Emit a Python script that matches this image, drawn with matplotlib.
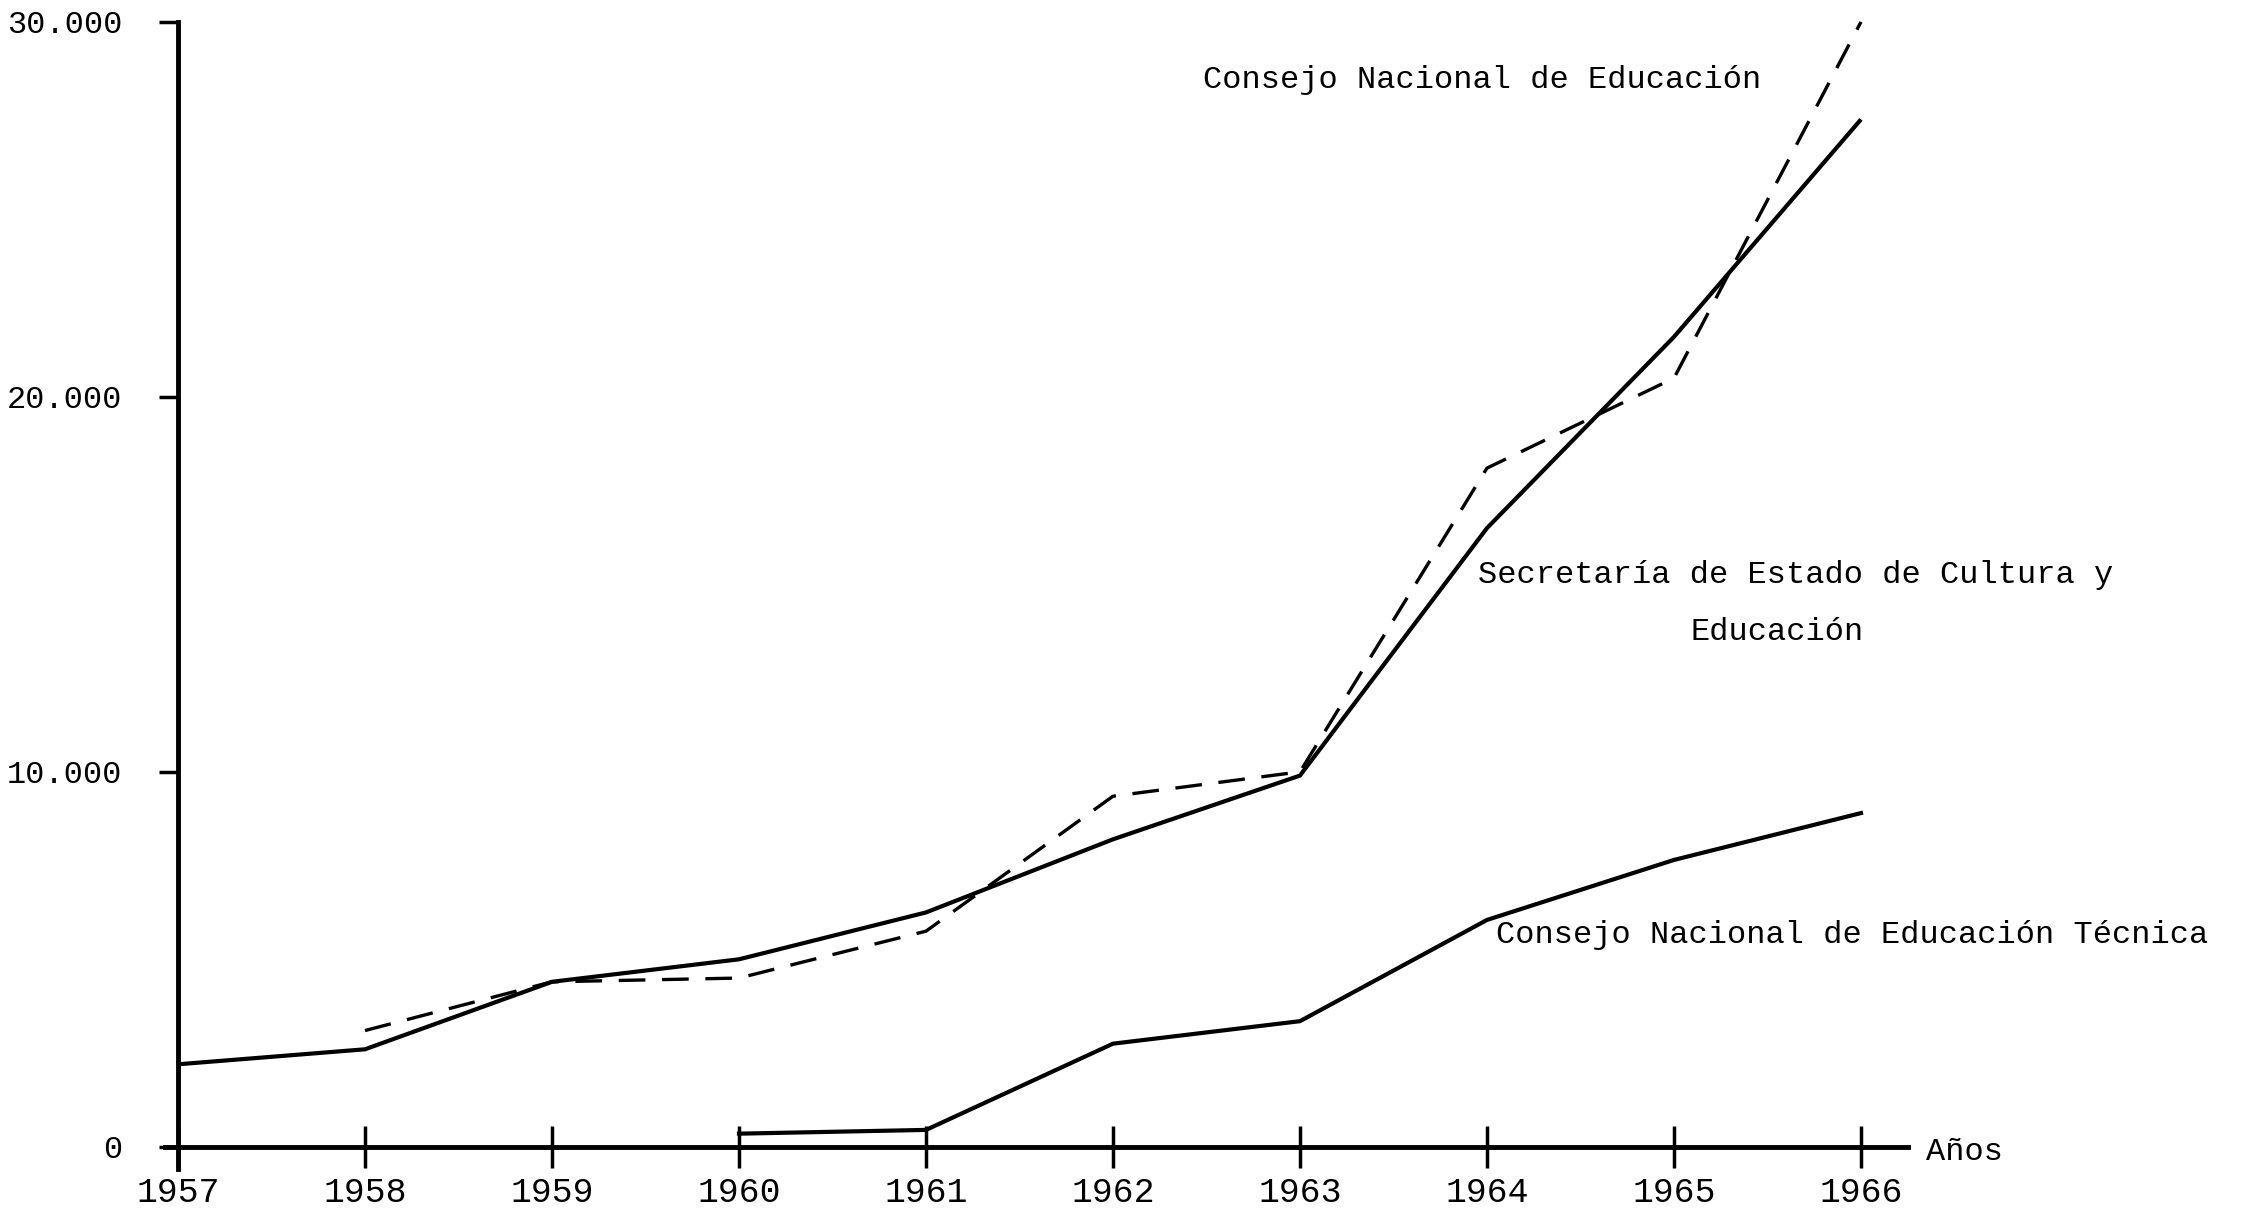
import numpy as np
import matplotlib.pyplot as plt

# years on the x axis
years = [1957, 1958, 1959, 1960, 1961, 1962, 1963, 1964, 1965, 1966]

# solid upper line (from 1957)
secretaria = [2200, 2600, 4400, 5000, 6250, 8200, 9900, 16500, 21600, 27400]
# dashed line (from 1958)
cne_years = [1958, 1959, 1960, 1961, 1962, 1963, 1964, 1965, 1966]
cne = [3100, 4400, 4500, 5750, 9350, 10000, 18100, 20500, 30000]
# lower solid line (from 1960)
conet_years = [1960, 1961, 1962, 1963, 1964, 1965, 1966]
conet = [350, 450, 2750, 3350, 6050, 7650, 8900]

yticks = [0, 10000, 20000, 30000]
ytick_labels = ["0", "10.000", "20.000", "30.000"]

mono = "Liberation Mono"

fig = plt.figure(figsize=(22.53, 12.12), dpi=100)
ax = fig.add_axes([0.0375, 0.0074, 0.830, 0.990])

ax.plot(years, secretaria, color="black", lw=3.0, solid_capstyle="butt")
ax.plot(cne_years, cne, color="black", lw=2.4, dashes=(8, 5))
ax.plot(conet_years, conet, color="black", lw=3.0)

ax.set_xlim(1956.5, 1966.5)
ax.set_ylim(-1500, 30500)

for s in ["top", "right"]:
    ax.spines[s].set_visible(False)
ax.spines["left"].set_position(("data", 1957))
ax.spines["bottom"].set_position(("data", 0))
ax.spines["left"].set_bounds(-600, 30000)
ax.spines["bottom"].set_bounds(1956.93, 1966.25)
ax.spines["left"].set_linewidth(3.5)
ax.spines["bottom"].set_linewidth(3.5)

ax.set_xticks(years)
ax.set_xticklabels([str(y) for y in years], fontfamily=mono, fontsize=25)
ax.tick_params(axis="x", direction="inout", length=30, width=2.5, pad=6)

ax.set_yticks(yticks)
ax.set_yticklabels(ytick_labels, fontfamily=mono, fontsize=23)
ax.tick_params(axis="y", direction="out", length=14, width=2.5, pad=26)

ax.text(1962.48, 28450, "Consejo Nacional de Educación", fontfamily=mono,
        fontsize=23, va="center", ha="left")
ax.text(1963.95, 15250, "Secretaría de Estado de Cultura y", fontfamily=mono,
        fontsize=23, va="center", ha="left")
ax.text(1965.09, 13730, "Educación", fontfamily=mono,
        fontsize=23, va="center", ha="left")
ax.text(1964.05, 5650, "Consejo Nacional de Educación Técnica", fontfamily=mono,
        fontsize=23, va="center", ha="left")
ax.text(1966.35, -130, "Años", fontfamily=mono, fontsize=23, va="center", ha="left")

fig.savefig("out.png", dpi=100)
